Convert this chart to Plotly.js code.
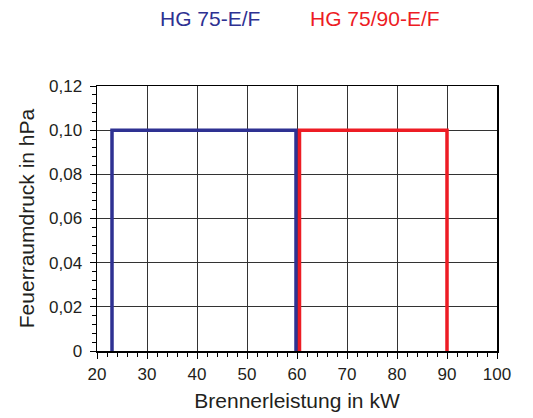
<!DOCTYPE html>
<html><head><meta charset="utf-8">
<script src="https://cdn.plot.ly/plotly-3.0.1.min.js"></script>
<style>html,body{margin:0;padding:0;background:#fff}#c{width:533px;height:418px}</style>
</head><body><div id="c"></div>
<script>
const seriesNames = ["HG 75-E/F", "HG 75/90-E/F"];
const seriesColors = ["#2e3192", "#ed1c24"];
const blueX = [23, 23, 59.8, 59.8];
const blueY = [0, 0.10, 0.10, 0];
const redX = [60.5, 60.5, 90, 90];
const redY = [0, 0.10, 0.10, 0];
const xTickVals = [20, 30, 40, 50, 60, 70, 80, 90, 100];
const xTickText = ["20", "30", "40", "50", "60", "70", "80", "90", "100"];
const yTickVals = [0, 0.02, 0.04, 0.06, 0.08, 0.10, 0.12];
const yTickText = ["0", "0,02", "0,04", "0,06", "0,08", "0,10", "0,12"];

const font = "Liberation Sans, Arial, Helvetica, sans-serif";
const txt = "#231f20";

const traces = [
  {x: blueX, y: blueY, mode: "lines", line: {color: seriesColors[0], width: 3.5}, name: seriesNames[0], cliponaxis: false},
  {x: redX, y: redY, mode: "lines", line: {color: seriesColors[1], width: 3.5}, name: seriesNames[1], cliponaxis: false}
];

const layout = {
  width: 533, height: 418,
  margin: {l: 97, r: 36, t: 86, b: 67},
  paper_bgcolor: "#fff", plot_bgcolor: "#fff",
  showlegend: false,
  font: {family: font, color: txt, size: 17},
  xaxis: {
    range: [20, 100], tickmode: "array", tickvals: xTickVals, ticktext: xTickText,
    showline: true, linecolor: "#000", linewidth: 1.5, mirror: true,
    ticks: "outside", ticklen: 6, tickcolor: "#000", tickwidth: 1,
    showgrid: true, gridcolor: "#333", gridwidth: 1, zeroline: false,
    minor: {dtick: 2, tick0: 0, ticks: "outside", ticklen: 4, tickcolor: "#000", showgrid: false},
    tickfont: {size: 17, family: font, color: txt},
    ticklabelstandoff: 1,
    title: {text: "Brennerleistung in kW", font: {size: 21, family: font, color: txt}, standoff: 10}
  },
  yaxis: {
    range: [0, 0.12], tickmode: "array", tickvals: yTickVals, ticktext: yTickText,
    showline: true, linecolor: "#000", linewidth: 1.5, mirror: true,
    ticks: "outside", ticklen: 6, tickcolor: "#000", tickwidth: 1,
    showgrid: true, gridcolor: "#333", gridwidth: 1, zeroline: false,
    minor: {dtick: 0.004, tick0: 0, ticks: "outside", ticklen: 4, tickcolor: "#000", showgrid: false},
    tickfont: {size: 17, family: font, color: txt},
    ticklabelstandoff: 4,
    title: {text: "Feuerraumdruck in hPa", font: {size: 21, family: font, color: txt}, standoff: 8}
  },
  annotations: [
    {text: seriesNames[0], xref: "paper", yref: "paper", x: 0.2825, y: 1.0, yshift: 68, xanchor: "center", yanchor: "middle", showarrow: false, font: {size: 21, family: font, color: seriesColors[0]}},
    {text: seriesNames[1], xref: "paper", yref: "paper", x: 0.695, y: 1.0, yshift: 68, xanchor: "center", yanchor: "middle", showarrow: false, font: {size: 21, family: font, color: seriesColors[1]}}
  ]
};
Plotly.newPlot("c", traces, layout, {displayModeBar: false, staticPlot: true});
</script></body></html>
